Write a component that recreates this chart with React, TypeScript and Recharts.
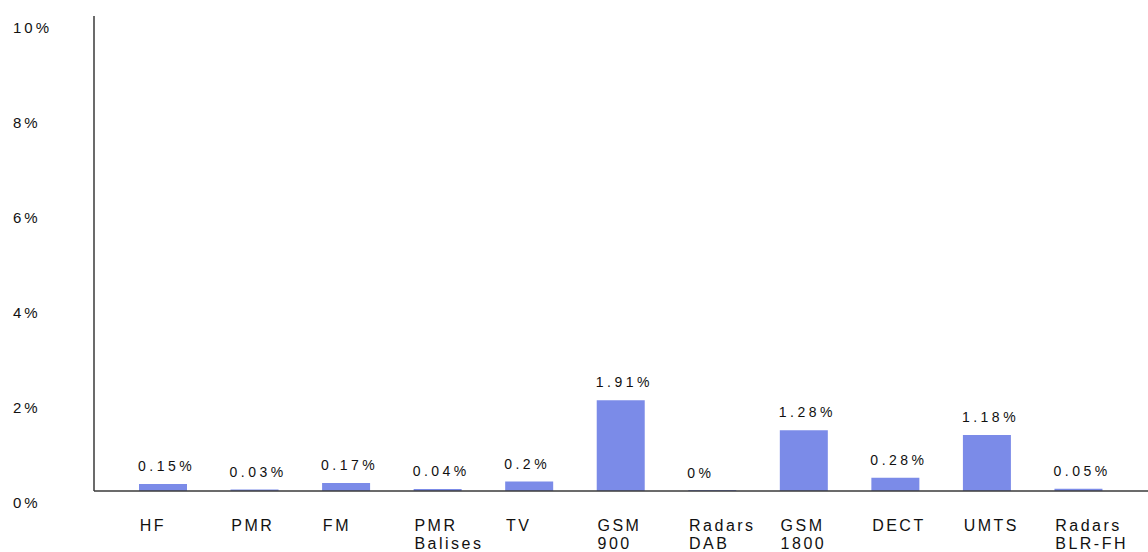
import React from 'react';
import { BarChart, Bar, XAxis, YAxis, LabelList } from 'recharts';

const categories = ['HF', 'PMR', 'FM', 'PMR Balises', 'TV', 'GSM 900', 'Radars DAB', 'GSM 1800', 'DECT', 'UMTS', 'Radars BLR-FH'];
const tickLines = [
  ['HF'], ['PMR'], ['FM'], ['PMR', 'Balises'], ['TV'], ['GSM', '900'],
  ['Radars', 'DAB'], ['GSM', '1800'], ['DECT'], ['UMTS'], ['Radars', 'BLR-FH'],
];
const shares = [0.15, 0.03, 0.17, 0.04, 0.2, 1.91, 0, 1.28, 0.28, 1.18, 0.05];
const yTicks = [0, 2, 4, 6, 8, 10];

const data = categories.map((name, i) => ({ name, share: shares[i], text: `${shares[i]}%` }));

const FONT = '"Liberation Sans", Arial, sans-serif';
const TEXT = '#111';
const BAR_W = 48;

const XTick = (props: any) => {
  const { x, y, payload } = props;
  const lines = tickLines[payload.index] || [payload.value];
  return (
    <g>
      {lines.map((l: string, i: number) => (
        <text
          key={i}
          x={x - BAR_W / 2 + 1}
          y={y + 34 + i * 18}
          textAnchor="start"
          dominantBaseline="central"
          fontFamily={FONT}
          fontSize={16}
          letterSpacing={2.5}
          fill={TEXT}
        >
          {l}
        </text>
      ))}
    </g>
  );
};

const YTick = (props: any) => {
  const { y, payload } = props;
  return (
    <text
      x={13}
      y={y + 11}
      textAnchor="start"
      dominantBaseline="central"
      fontFamily={FONT}
      fontSize={15}
      letterSpacing={3}
      fill={TEXT}
    >
      {`${payload.value}%`}
    </text>
  );
};

const ValueLabel = (props: any) => {
  const { x, y, height, value } = props;
  // min-size bars (0 %) would otherwise sit one pixel higher
  const top = height <= 1 ? y + height : y;
  return (
    <text
      x={x - 1}
      y={top - 18}
      textAnchor="start"
      dominantBaseline="central"
      fontFamily={FONT}
      fontSize={14}
      letterSpacing={3.5}
      fill={TEXT}
    >
      {value}
    </text>
  );
};

export default function App() {
  return (
    <div style={{ position: 'absolute', left: 0, top: 0, width: 1148, height: 552, background: '#fff' }}>
      <BarChart width={1148} height={552} data={data} margin={{ top: 16, right: 0, bottom: 0, left: 0 }}>
        <Bar dataKey="share" fill="#7b8be8" barSize={BAR_W} minPointSize={1} isAnimationActive={false}>
          <LabelList dataKey="text" content={<ValueLabel />} />
        </Bar>
        <XAxis
          dataKey="name"
          height={61}
          padding={{ left: 23, right: 24 }}
          tickLine={false}
          tickSize={0}
          tickMargin={0}
          interval={0}
          axisLine={{ stroke: '#3a3a3a', strokeWidth: 1.5 }}
          tick={<XTick />}
        />
        <YAxis
          width={94}
          domain={[0, 10]}
          ticks={yTicks}
          tickLine={false}
          tickSize={0}
          axisLine={{ stroke: '#3a3a3a', strokeWidth: 1.5 }}
          tick={<YTick />}
        />
      </BarChart>
    </div>
  );
}
